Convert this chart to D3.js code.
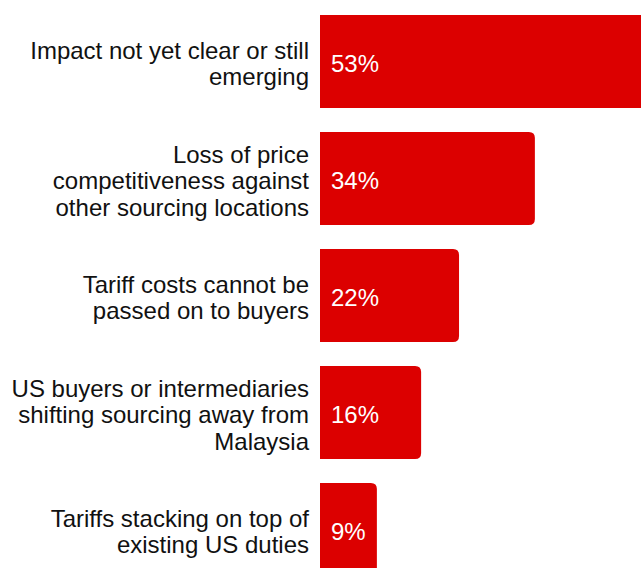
<!DOCTYPE html>
<html>
<head>
<meta charset="utf-8">
<script src="https://cdn.jsdelivr.net/npm/d3@7"></script>
<style>
  html, body { margin: 0; padding: 0; background: #fff; overflow: hidden; }
  svg { display: block; }
</style>
</head>
<body>
<svg id="chart" width="641" height="568"></svg>
<script>
// Survey responses: reported effects of US tariffs
const categories = [
  ["Impact not yet clear or still", "emerging"],
  ["Loss of price", "competitiveness against", "other sourcing locations"],
  ["Tariff costs cannot be", "passed on to buyers"],
  ["US buyers or intermediaries", "shifting sourcing away from", "Malaysia"],
  ["Tariffs stacking on top of", "existing US duties"]
];
const shares = [53, 34, 22, 16, 9];
const valueLabels = ["53%", "34%", "22%", "16%", "9%"];

const W = 641, H = 568;
const barLeft = 320;
const fontSize = 24;
const lineHeight = 26.5;
const barColor = "#dc0000";
const radius = 6;

const svg = d3.select("#chart");

const keys = categories.map((c, i) => i);

const x = d3.scaleLinear().domain([0, 100]).range([barLeft, barLeft + 632]);
const y = d3.scaleBand()
  .domain(keys)
  .range([3, 588])
  .paddingInner(0.205)
  .paddingOuter(0.1025);

// bar with square left end and rounded right corners
function barPath(x0, x1, y0, h) {
  const r = Math.min(radius, (x1 - x0) / 2, h / 2);
  return `M${x0},${y0}H${x1 - r}Q${x1},${y0} ${x1},${y0 + r}` +
         `V${y0 + h - r}Q${x1},${y0 + h} ${x1 - r},${y0 + h}H${x0}Z`;
}

const rows = svg.append("g").selectAll("g")
  .data(keys)
  .join("g");

rows.append("path")
  .attr("d", i => barPath(x(0), x(shares[i]), y(i), y.bandwidth()))
  .attr("fill", barColor);

const capOffset = fontSize * 0.358;

rows.append("text")
  .attr("x", x(0) + 11)
  .attr("y", i => y(i) + y.bandwidth() / 2 + capOffset + 2)
  .attr("fill", "#fff")
  .attr("font-family", "Liberation Sans, Arial, sans-serif")
  .attr("font-size", fontSize)
  .text(i => valueLabels[i]);

rows.append("text")
  .attr("text-anchor", "end")
  .attr("font-family", "Liberation Sans, Arial, sans-serif")
  .attr("font-size", fontSize)
  .attr("fill", "#111")
  .each(function(i) {
    const lines = categories[i];
    const cy = y(i) + y.bandwidth() / 2 + 2;
    const firstBase = cy - (lines.length - 1) * lineHeight / 2 + capOffset;
    d3.select(this).selectAll("tspan")
      .data(lines)
      .join("tspan")
      .attr("x", barLeft - 11)
      .attr("y", (d, k) => firstBase + k * lineHeight)
      .text(d => d);
  });
</script>
</body>
</html>
